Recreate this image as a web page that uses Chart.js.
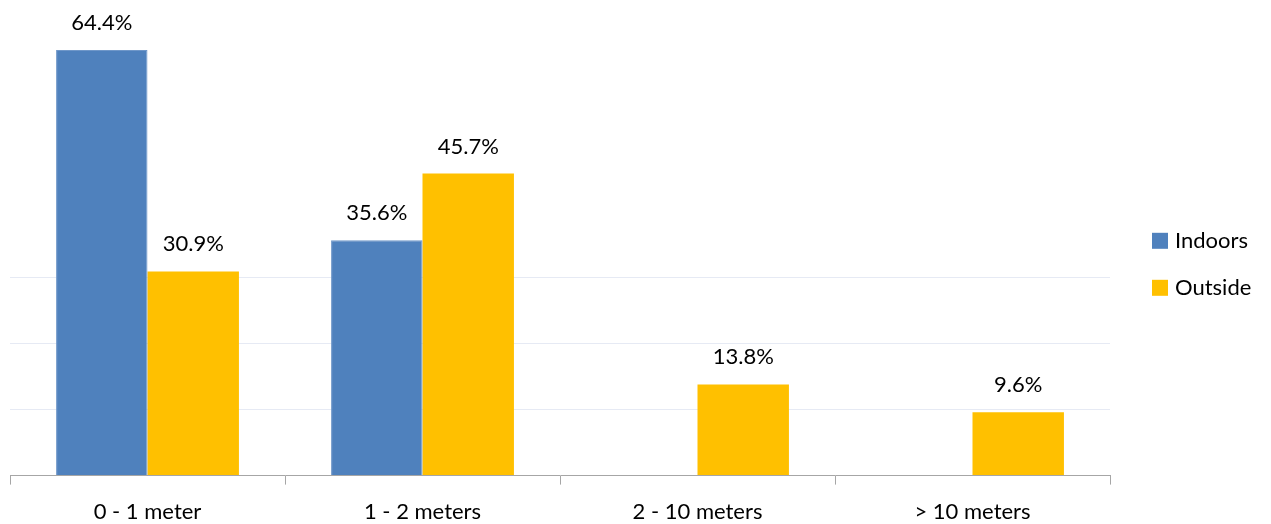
<!DOCTYPE html>
<html>
<head>
<meta charset="utf-8">
<script src="https://cdn.jsdelivr.net/npm/chart.js@4/dist/chart.umd.min.js"></script>
<style>
  html, body { margin: 0; padding: 0; background: #fff; }
  #wrap { width: 1271px; height: 524px; position: relative; }
</style>
</head>
<body>
<div id="wrap"><canvas id="distChart"></canvas></div>
<script>
const categories = ['0 - 1 meter', '1 - 2 meters', '2 - 10 meters', '> 10 meters'];
const indoors = [64.4, 35.6, null, null];
const outside = [30.9, 45.7, 13.8, 9.6];
const gridValues = [10, 20, 30];

const FONT = 'Lato';

// draws the value on top of each bar
const barLabels = {
    id: 'barLabels',
    afterDatasetsDraw(chart) {
        const ctx = chart.ctx;
        ctx.save();
        ctx.font = '22px ' + FONT;
        ctx.fillStyle = '#000';
        ctx.textAlign = 'center';
        ctx.textBaseline = 'middle';
        chart.data.datasets.forEach(function(ds, i) {
            chart.getDatasetMeta(i).data.forEach(function(bar, j) {
                const v = ds.data[j];
                if (v == null) return;
                ctx.fillText(v.toFixed(1) + '%', bar.x, bar.y - 27);
            });
        });
        ctx.restore();
    }
};

// legend on the right, placed like the original
const sideLegend = {
    id: 'sideLegend',
    afterDraw(chart) {
        const ctx = chart.ctx;
        const x = chart.chartArea.right + 42;
        const midY = (chart.chartArea.top + chart.chartArea.bottom) / 2 + 20;
        const step = 47;
        ctx.save();
        ctx.font = '22px ' + FONT;
        ctx.textBaseline = 'middle';
        ctx.textAlign = 'left';
        chart.data.datasets.forEach(function(ds, i) {
            const y = midY + (i - 0.5) * step;
            ctx.fillStyle = ds.backgroundColor;
            ctx.fillRect(x, y - 8, 16, 16);
            ctx.fillStyle = '#000';
            ctx.fillText(ds.label, x + 23, y);
        });
        ctx.restore();
    }
};

document.addEventListener('DOMContentLoaded', function() {
    const ctx = document.getElementById('distChart').getContext('2d');
    new Chart(ctx, {
        type: 'bar',
        data: {
            labels: categories,
            datasets: [
                { label: 'Indoors', data: indoors, backgroundColor: '#4F81BD', borderColor: '#6f97c9', borderWidth: 1 },
                { label: 'Outside', data: outside, backgroundColor: '#FFC000', borderWidth: 0 }
            ]
        },
        options: {
            responsive: true,
            maintainAspectRatio: false,
            animation: false,
            categoryPercentage: 0.665,
            barPercentage: 1,
            layout: { padding: { left: 10, top: 13, right: 161, bottom: -15 } },
            plugins: {
                legend: { display: false },
                tooltip: { enabled: false }
            },
            scales: {
                x: {
                    grid: { offset: true, drawOnChartArea: false, color: '#a6a6a6', tickLength: 9 },
                    border: { color: '#a6a6a6' },
                    ticks: { font: { family: FONT, size: 22 }, color: '#000', padding: 14 }
                },
                y: {
                    min: 0,
                    max: 70,
                    ticks: { display: false, stepSize: 10 },
                    border: { display: false },
                    grid: {
                        drawTicks: false,
                        color: function(c) { return gridValues.includes(c.tick.value) ? '#e6eaf4' : 'rgba(0,0,0,0)'; }
                    }
                }
            }
        },
        plugins: [barLabels, sideLegend]
    });
});
</script>
</body>
</html>
